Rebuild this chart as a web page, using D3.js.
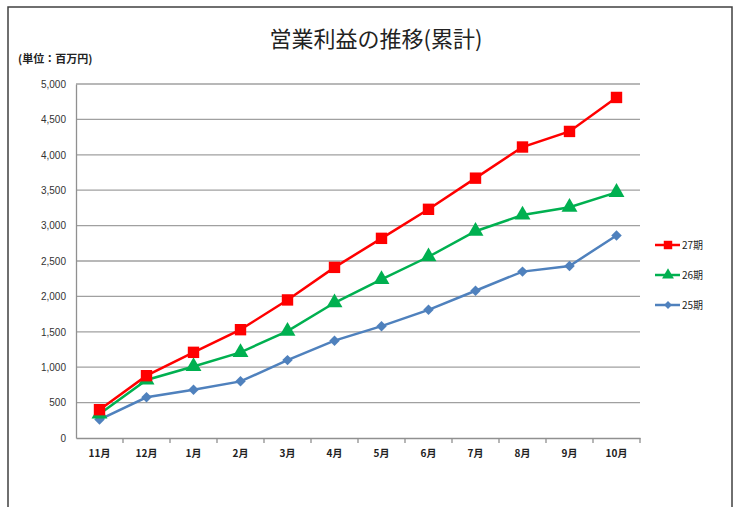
<!DOCTYPE html>
<html>
<head>
<meta charset="utf-8">
<script src="https://cdn.jsdelivr.net/npm/d3@7"></script>
<style>
  body { margin: 0; background: #fff; }
  svg { display: block; }
</style>
</head>
<body>
<div id="chart"></div>
<script>
// data
const months = ['11月', '12月', '1月', '2月', '3月', '4月', '5月', '6月', '7月', '8月', '9月', '10月'];
const yTicks = [0, 500, 1000, 1500, 2000, 2500, 3000, 3500, 4000, 4500, 5000];
const ki27 = [400, 880, 1210, 1530, 1950, 2410, 2820, 3230, 3670, 4110, 4330, 4810];
const ki26 = [340, 820, 1010, 1210, 1510, 1910, 2240, 2560, 2920, 3150, 3260, 3470];
const ki25 = [260, 575, 680, 800, 1100, 1375, 1580, 1810, 2080, 2350, 2430, 2860];

// square rotated 45 degrees, wider than d3's own diamond
const rotated = (sym) => ({ draw(ctx, size) {
  const r = Math.sqrt(size / 2);
  ctx.moveTo(0, -r); ctx.lineTo(r, 0); ctx.lineTo(0, r); ctx.lineTo(-r, 0); ctx.closePath();
}});

const series = [
  { name: '27期', values: ki27, color: '#ff0000', shape: d3.symbolSquare, size: 130 },
  { name: '26期', values: ki26, color: '#00b050', shape: d3.symbolTriangle, size: 110 },
  { name: '25期', values: ki25, color: '#4f81bd', shape: rotated(), size: 55 }
];

const W = 737, H = 507;
const plotL = 76, plotR = 640, plotT = 84, plotB = 438;

const svg = d3.select('#chart').append('svg')
  .attr('width', W).attr('height', H);

// outer frame
svg.append('rect')
  .attr('x', 8).attr('y', 7).attr('width', 724).attr('height', 520)
  .attr('fill', '#fff').attr('stroke', '#404040').attr('stroke-width', 1.5);

const x = d3.scaleBand().domain(months).range([plotL, plotR]);
const y = d3.scaleLinear().domain([0, 5000]).range([plotB, plotT]);

// grid lines
svg.append('g').selectAll('line')
  .data(yTicks.filter(d => d > 0))
  .enter().append('line')
  .attr('x1', plotL).attr('x2', plotR)
  .attr('y1', d => y(d)).attr('y2', d => y(d))
  .attr('stroke', '#a0a0a0').attr('stroke-width', 1.3);

// y axis
const yAxis = svg.append('g')
  .attr('transform', `translate(${plotL},0)`)
  .call(d3.axisLeft(y).tickValues(yTicks).tickSize(0).tickPadding(10).tickFormat(d3.format(',')));
yAxis.select('.domain').attr('stroke', '#909090').attr('stroke-width', 1.3);
yAxis.selectAll('text')
  .attr('font-family', 'Liberation Sans, Arial, sans-serif')
  .attr('font-size', 10).attr('fill', '#333');

// x axis: ticks between categories
const xAxis = svg.append('g')
  .attr('transform', `translate(0,${plotB})`)
  .call(d3.axisBottom(x).tickSize(0).tickPadding(12));
xAxis.select('.domain').attr('stroke', '#909090').attr('stroke-width', 1.3);
xAxis.selectAll('text')
  .attr('font-family', 'Noto Sans CJK JP, sans-serif')
  .attr('font-weight', 'bold')
  .attr('font-size', 10).attr('fill', '#222');
xAxis.selectAll('line.sep')
  .data(months.map((m, i) => i + 1))
  .enter().append('line')
  .attr('class', 'sep')
  .attr('x1', i => plotL + i * x.step()).attr('x2', i => plotL + i * x.step())
  .attr('y1', 0).attr('y2', 5)
  .attr('stroke', '#909090').attr('stroke-width', 1.3);

const line = d3.line()
  .x((d, i) => x(months[i]) + x.bandwidth() / 2)
  .y(d => y(d));

// draw back to front: 25, 26, 27
series.slice().reverse().forEach(s => {
  svg.append('path')
    .datum(s.values)
    .attr('d', line)
    .attr('fill', 'none')
    .attr('stroke', s.color)
    .attr('stroke-width', 2.5);
  svg.append('g').selectAll('path')
    .data(s.values)
    .enter().append('path')
    .attr('d', d3.symbol().type(s.shape).size(s.size))
    .attr('transform', (d, i) => `translate(${x(months[i]) + x.bandwidth() / 2},${y(d)})`)
    .attr('fill', s.color);
});

// legend
const legend = svg.append('g');
series.forEach((s, i) => {
  const ly = 245 + i * 30;
  legend.append('line')
    .attr('x1', 655).attr('x2', 680).attr('y1', ly).attr('y2', ly)
    .attr('stroke', s.color).attr('stroke-width', 2.5);
  legend.append('path')
    .attr('d', d3.symbol().type(s.shape).size(s.size * 0.55))
    .attr('transform', `translate(668,${ly})`)
    .attr('fill', s.color);
  legend.append('text')
    .attr('x', 682).attr('y', ly + 4)
    .attr('font-family', 'Noto Sans CJK JP, sans-serif')
    .attr('font-size', 10).attr('fill', '#222')
    .text(s.name);
});

// title
svg.append('text')
  .attr('x', 376).attr('y', 47)
  .attr('text-anchor', 'middle')
  .attr('font-family', 'Noto Sans CJK JP, sans-serif')
  .attr('font-size', 22).attr('fill', '#222')
  .text('営業利益の推移(累計)');

// unit label
svg.append('text')
  .attr('x', 18).attr('y', 63)
  .attr('font-family', 'Noto Sans CJK JP, sans-serif')
  .attr('font-weight', 'bold')
  .attr('font-size', 11).attr('fill', '#222')
  .text('(単位：百万円)');
</script>
</body>
</html>
